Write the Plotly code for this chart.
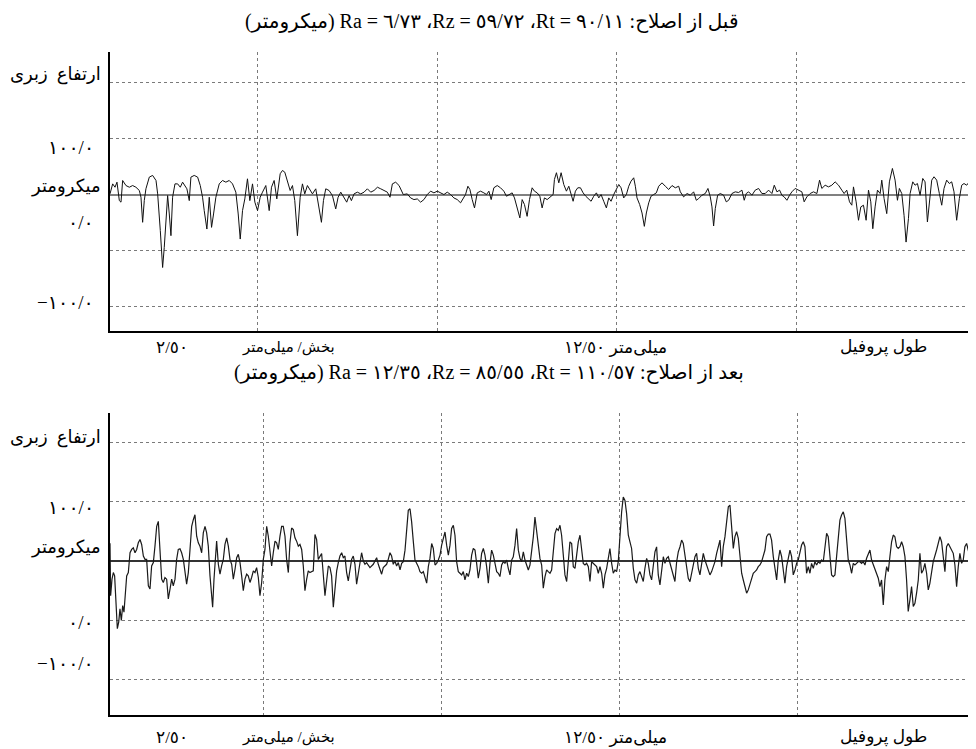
import plotly.graph_objects as go

# ---------------- data ----------------
# Before treatment profile: distance (mm), height (micrometre)
top_x = [0.45, 0.487, 0.52, 0.547, 0.58, 0.603, 0.626, 0.672, 0.719, 0.765, 0.811, 0.858, 0.881, 0.904, 0.927, 0.95,
         0.997, 1.043, 1.09, 1.113, 1.15, 1.182, 1.205, 1.252, 1.275, 1.298, 1.321, 1.354, 1.391, 1.428, 1.46, 1.493,
         1.52, 1.553, 1.576, 1.622, 1.669, 1.706, 1.738, 1.761, 1.798, 1.831, 1.863, 1.891, 1.923, 1.97, 2.016, 2.062,
         2.109, 2.155, 2.201, 2.234, 2.262, 2.294, 2.326, 2.363, 2.396, 2.433, 2.466, 2.503, 2.54, 2.572, 2.618, 2.665,
         2.697, 2.734, 2.771, 2.818, 2.85, 2.882, 2.919, 2.957, 2.989, 3.021, 3.058, 3.096, 3.128, 3.16, 3.197, 3.234,
         3.267, 3.313, 3.36, 3.392, 3.42, 3.452, 3.498, 3.545, 3.591, 3.624, 3.661, 3.707, 3.744, 3.777, 3.809, 3.846,
         3.892, 3.939, 3.985, 4.031, 4.078, 4.124, 4.171, 4.217, 4.263, 4.309, 4.346, 4.379, 4.425, 4.472,
         4.531, 4.587, 4.633, 4.679, 4.726, 4.772, 4.818, 4.865, 4.911, 4.957, 5.004, 5.05, 5.096, 5.143, 5.189, 5.235,
         5.282, 5.328, 5.365, 5.397, 5.43, 5.458, 5.49, 5.522, 5.56, 5.606, 5.652, 5.689, 5.722, 5.754, 5.791, 5.838,
         5.884, 5.93, 5.967, 6.0, 6.046, 6.078, 6.116, 6.153, 6.185, 6.217, 6.254, 6.287, 6.324, 6.356, 6.394, 6.431,
         6.463, 6.495, 6.533, 6.579, 6.616, 6.634, 6.662, 6.695, 6.727, 6.764, 6.801, 6.834, 6.866, 6.894, 6.926, 6.959,
         6.996, 7.033, 7.07, 7.112, 7.144, 7.181, 7.218, 7.251, 7.283, 7.32, 7.357, 7.39, 7.422, 7.459, 7.496, 7.529,
         7.561, 7.598, 7.635, 7.668, 7.7, 7.737, 7.76, 7.783, 7.82, 7.853, 7.885, 7.913, 7.946, 7.978, 8.015, 8.052,
         8.085, 8.131, 8.177, 8.224, 8.27, 8.316, 8.363,
         8.386, 8.432, 8.479, 8.525, 8.571, 8.608, 8.641, 8.687, 8.733, 8.77, 8.803, 8.826, 8.849, 8.872, 8.905, 8.942,
         8.988, 9.025, 9.058, 9.104, 9.15, 9.197, 9.243, 9.275, 9.303, 9.336, 9.382, 9.428, 9.475, 9.521, 9.567, 9.614,
         9.66, 9.693, 9.73, 9.767, 9.799, 9.831, 9.869, 9.906, 9.938, 9.984, 10.031, 10.077, 10.109, 10.146, 10.193,
         10.239, 10.286, 10.323, 10.355, 10.401, 10.448, 10.494, 10.54, 10.587, 10.633, 10.665, 10.702, 10.74, 10.772,
         10.795, 10.832, 10.865, 10.897, 10.934, 10.971, 11.004, 11.036, 11.064, 11.096, 11.129, 11.166, 11.189, 11.221,
         11.258, 11.295, 11.337, 11.374, 11.407, 11.434, 11.467, 11.499, 11.527, 11.56, 11.583, 11.62, 11.652, 11.685,
         11.722, 11.759, 11.791, 11.824, 11.851, 11.884, 11.916, 11.953, 11.99, 12.023, 12.055, 12.092, 12.129, 12.162,
         12.194, 12.231, 12.268, 12.301, 12.333, 12.37, 12.407, 12.44, 12.486]
top_y = [0.6, 9.5, 6.5, 11.0, -5.4, -6.8, 12.5, 8.0, 6.5, 8.0, 6.5, 3.6, -2.4, -24.7, -5.4, 5.1,
         15.5, 17.0, 12.5, 0.6, -32.1, -64.9, -47.0, -0.9, -17.3, -36.6, -2.4, 9.5, 9.5, 6.5, 11.0, 8.0,
         5.1, -5.4, 15.5, 17.0, 15.5, 8.0, -2.4, -14.3, -30.7, -2.4, -29.2, -17.3, -2.4, 9.5, 12.5, 11.0,
         12.5, 9.5, 2.1, -17.3, -39.6, -14.3, -3.9, 14.0, -5.4, 9.5, -6.8, -14.3, -2.4, 2.1, 8.0, -14.3,
         6.5, 12.5, -3.9, 18.5, 21.4, 19.9, 12.5, 3.6, 8.0, -5.4, -36.6, -2.4, 9.5, 0.6, 8.0, 3.6,
         0.6, 5.1, -11.3, -24.7, -5.4, 5.1, 3.6, -0.9, -12.8, -2.4, 2.1, -2.4, -6.8, -0.9, -5.4, 0.6,
         2.1, 0.6, 2.1, 5.1, 2.1, 3.6, 6.5, 5.1, 3.6, 2.1, -2.4, 9.5, 11.0, 8.0,
         0.0, 0.6, -3.0, -4.5, -3.9, -6.8, -4.5, 0.0, 3.0, 1.5, 3.0, 1.5, 0.0, 2.1, 0.0, -3.0,
         -4.5, -7.4, -3.0, 0.0, 7.4, 4.5, -4.5, -11.9, 1.5, 3.0, 1.5, 0.0, 3.0, -4.5, 6.0, 8.0,
         6.0, 3.0, -1.5, 0.0, 1.5, -3.0, -13.4, -20.8, -4.5, -8.9, -19.4, -4.5, 6.0, 3.0, 1.5, -1.5,
         -11.9, -3.0, -4.5, -1.5, 0.0, 13.4, 19.4, 10.4, 19.4, 8.9, 3.0, 7.4, 0.0, -6.0, 3.0, 6.0,
         6.0, 1.5, -1.5, -4.5, -6.0, -1.5, 1.5, -3.0, 0.0, -6.0, -11.9, -3.0, -6.0, 0.0, 4.5, 8.9,
         6.0, -3.0, 0.0, 7.4, 11.9, 14.9, 7.4, -3.0, -8.9, -16.4, -28.3, -16.4, -7.4, -1.5, 0.0, 1.5,
         7.4, 10.4, 7.4, 4.5, 8.0, 6.0, 7.4,
         2.4, -2.1, 0.9, -0.6, 2.4, -5.1, -3.6, -0.6, 0.9, 5.4, -2.1, -11.0, -28.0, -12.5, -0.6, 0.9,
         -0.6, -6.5, -5.1, 0.9, 2.4, 1.8, 3.9, -5.1, 0.9, 2.4, -0.6, 3.9, 5.4, 0.9, 0.9, 3.9,
         0.9, 8.3, 2.4, 3.9, -0.6, -2.1, -5.1, -0.6, 2.4, 5.4, 3.9, 2.4, -6.5, -2.1, 0.9,
         2.4, 0.9, 12.8, 5.4, 8.3, 6.8, 8.3, 11.3, 8.3, 3.9, 0.9, 3.9, -6.5, -9.5,
         6.8, -6.5, -22.9, -11.0, -9.5, -22.9, 3.9, -6.5, -30.4, -11.0, 3.9, 0.9, 12.8, -3.6,
         -17.0, 11.3, 23.2, 12.8, -5.1, 5.4, 0.9, -18.5, -42.3, -21.4, 0.9, 11.3, 8.3, 9.8,
         -0.6, 14.3, 11.3, -24.4, -8.0, 12.8, 15.8, 12.8, 0.9, -9.5, 5.4, 12.8, 9.8, 11.3,
         2.4, -22.9, -3.6, 8.3, 9.8, 8.3, 11.3, 9.8, 8.3]

# After treatment profile: distance (mm), height (micrometre)
bot_x = [0.35, 0.359, 0.378, 0.397, 0.415, 0.434, 0.453, 0.472, 0.49, 0.509, 0.528, 0.546, 0.565, 0.584, 0.607, 0.631,
         0.654, 0.677, 0.701, 0.724, 0.747, 0.771, 0.794, 0.818, 0.841, 0.864, 0.888, 0.911, 0.934, 0.958, 0.981, 1.005,
         1.028, 1.051, 1.075, 1.098, 1.121, 1.145, 1.168, 1.192, 1.215, 1.238, 1.262, 1.285, 1.308, 1.332, 1.355, 1.379,
         1.402, 1.425, 1.449, 1.472, 1.496, 1.519, 1.542, 1.566, 1.589, 1.612, 1.636, 1.659, 1.683, 1.706, 1.729, 1.753,
         1.776, 1.79, 1.809, 1.828, 1.846, 1.87, 1.893, 1.916, 1.94, 1.963, 1.987, 2.01, 2.033, 2.057, 2.08, 2.104,
         2.127, 2.15, 2.174, 2.197, 2.22, 2.244, 2.267, 2.29, 2.314, 2.337, 2.361, 2.384, 2.407, 2.431, 2.454, 2.478,
         2.501, 2.524, 2.548, 2.571, 2.594, 2.618, 2.641, 2.665, 2.688, 2.711, 2.735, 2.758, 2.781, 2.805, 2.828, 2.852,
         2.875, 2.898, 2.922, 2.945, 2.968, 2.992, 3.015, 3.039, 3.062, 3.085, 3.109, 3.132, 3.155, 3.202, 3.226, 3.249,
         3.272, 3.296, 3.319, 3.366, 3.389, 3.413, 3.436, 3.459, 3.483, 3.506, 3.53, 3.553, 3.576, 3.6, 3.623, 3.646,
         3.67, 3.693, 3.717, 3.74, 3.763, 3.787, 3.81, 3.834, 3.857, 3.88, 3.904, 3.927, 3.95, 3.974, 3.997, 4.044,
         4.091, 4.114, 4.137, 4.161, 4.184, 4.207, 4.231, 4.254, 4.278, 4.301, 4.324, 4.348, 4.371, 4.395,
         4.419, 4.442, 4.465, 4.489, 4.512, 4.535, 4.559, 4.582, 4.606, 4.629, 4.652, 4.676, 4.699, 4.723, 4.746, 4.769,
         4.793, 4.816, 4.839, 4.863, 4.886, 4.91, 4.933, 4.956, 4.98, 5.003, 5.026, 5.05, 5.073, 5.097, 5.12, 5.143,
         5.167, 5.19, 5.213, 5.237, 5.26, 5.284, 5.307, 5.33, 5.354, 5.377, 5.4, 5.424, 5.447, 5.471, 5.494, 5.517,
         5.541, 5.564, 5.588, 5.611, 5.634, 5.658, 5.681, 5.704, 5.728, 5.751, 5.775, 5.798, 5.821, 5.845, 5.868, 5.891,
         5.915, 5.938, 5.962, 5.985, 6.008, 6.032, 6.055, 6.079, 6.102, 6.125, 6.149, 6.172, 6.195, 6.219, 6.242, 6.266,
         6.289, 6.312, 6.336, 6.359, 6.382, 6.406, 6.429, 6.453, 6.476, 6.499, 6.523, 6.546, 6.57, 6.593, 6.616, 6.64,
         6.663, 6.686, 6.71, 6.733, 6.757, 6.78, 6.803, 6.827, 6.85, 6.874, 6.897, 6.92, 6.944, 6.967, 6.99, 7.014,
         7.037, 7.061, 7.084, 7.107, 7.131, 7.154, 7.177, 7.201, 7.224, 7.248, 7.271, 7.294, 7.318, 7.341, 7.364, 7.388,
         7.411, 7.435, 7.458, 7.481, 7.505, 7.528, 7.551, 7.575, 7.598, 7.622, 7.645, 7.668, 7.692, 7.715, 7.739, 7.762,
         7.785, 7.809, 7.832, 7.855, 7.879, 7.902, 7.926, 7.949, 7.972, 7.996, 8.019, 8.042, 8.066, 8.089, 8.113, 8.136,
         8.159, 8.183, 8.206, 8.229, 8.253, 8.276, 8.3, 8.323,
         8.347, 8.37, 8.393, 8.417, 8.44, 8.463, 8.487, 8.51, 8.534, 8.557, 8.58, 8.604, 8.627, 8.651, 8.674, 8.697,
         8.721, 8.744, 8.767, 8.791, 8.814, 8.838, 8.861, 8.884, 8.908, 8.931, 8.954, 8.978, 9.001, 9.025, 9.048, 9.071,
         9.095, 9.118, 9.141, 9.165, 9.188, 9.212, 9.235, 9.258, 9.282, 9.305, 9.329, 9.352, 9.375, 9.399, 9.422, 9.445,
         9.469, 9.492, 9.516, 9.539, 9.562, 9.586, 9.609, 9.632, 9.656, 9.679, 9.703, 9.726, 9.749, 9.773, 9.796, 9.819,
         9.843, 9.866, 9.89, 9.913, 9.936, 9.96, 9.983, 10.006, 10.03, 10.053, 10.077, 10.1, 10.123, 10.147, 10.17, 10.193,
         10.217, 10.24, 10.264, 10.287, 10.31, 10.334, 10.357, 10.38, 10.404, 10.427, 10.451, 10.474, 10.497, 10.521,
         10.544, 10.568, 10.591, 10.614, 10.638, 10.661, 10.684, 10.708, 10.731, 10.755, 10.778, 10.801, 10.825, 10.848,
         10.871, 10.895, 10.918, 10.942, 10.965, 10.988, 11.012, 11.035, 11.058, 11.082, 11.105, 11.129, 11.152, 11.175,
         11.199, 11.222, 11.246, 11.269, 11.292, 11.316, 11.339, 11.362, 11.386, 11.409, 11.433, 11.456, 11.479, 11.503,
         11.526, 11.549, 11.573, 11.596, 11.62, 11.643, 11.666, 11.69, 11.713, 11.736, 11.76, 11.783, 11.807, 11.83,
         11.853, 11.9, 11.947, 11.994, 12.017, 12.04, 12.064, 12.087, 12.111, 12.134, 12.157, 12.181, 12.204, 12.228,
         12.251, 12.274, 12.298, 12.321, 12.344, 12.368, 12.391, 12.415, 12.438, 12.461, 12.485]
bot_y = [15.0, -29.4, -15.4, -9.8, -12.6, -37.8, -57.4, -51.8, -40.6, -50.4, -37.8, -43.4, -29.4, -12.6, -9.8, 7.0,
         9.8, 11.2, 7.0, 9.8, 15.4, 18.2, 14.0, 4.2, 1.4, 1.4, -21.0, -23.8, -4.2, -1.4, 12.6, 29.4,
         33.6, 7.0, -15.4, -18.2, -14.0, -15.4, -32.2, -23.8, -15.4, -21.0, -15.4, 1.4, 9.8, 10.4, 7.0, 1.4,
         -9.8, -19.6, -9.8, 9.8, 29.4, 35.0, 39.2, 21.0, 15.4, 12.6, 7.0, 23.8, 29.4, 23.8, 12.6, -12.6,
         -29.4, -39.2, -15.4, 1.4, 16.8, -2.8, -11.2, -4.2, 1.4, 14.0, 19.6, 12.6, 1.4, -2.8, -15.4, -7.0,
         2.8, 5.6, -1.4, -12.6, -25.2, -15.4, -11.2, -12.6, -18.2, -14.0, -8.4, -9.8, -5.6, -14.0, -29.4, -18.2,
         1.4, 9.8, 29.4, 21.0, 9.8, -4.2, 7.0, 16.8, 15.4, 9.8, 21.0, 29.4, 29.4, 21.0, 1.4, -9.8,
         15.4, 28.0, 26.6, 19.6, 16.8, 12.6, 14.0, 9.8, -4.2, -25.2, -15.4, -8.4, -9.8, -8.4, 22.4, 18.2,
         1.4, 4.2, 6.4, -29.4, -15.4, -4.2, -5.6, -12.6, -39.2, -21.0, -8.4, -1.4, 4.2, 7.0, 2.8, 4.2,
         -9.8, -16.8, -5.6, 1.4, 4.2, -2.8, -19.6, -9.8, 1.4, 7.0, 0.0, -2.8, -1.4, -4.2, -5.6, -2.8,
         2.8, -2.8, -7.0, -11.2, -5.6, -4.2, -2.8, 1.4, 7.0, 4.2, -2.8, 0.0, -4.2, -1.4,
         -7.6, -2.0, -0.6, 9.2, 27.5, 42.9, 44.3, 33.1, 16.2, 0.8, -2.0, -4.8, -9.0, -10.4, -9.0, -13.2,
         -18.8, -4.8, 2.2, 14.8, 10.6, -3.4, -2.0, 0.8, 5.0, 13.4, 20.4, 24.6, 13.4, 5.0, 13.4, 27.5,
         30.3, 21.8, -0.6, -9.0, -10.4, -11.8, -9.0, -16.0, -10.4, -13.2, -7.6, 5.0, 10.6, 9.2, -2.0, -14.6,
         -6.2, 6.4, 10.6, 5.0, -4.8, -18.8, -2.0, 9.2, 5.0, -3.4, -9.0, -10.4, -13.2, -3.4, -0.6, -2.0,
         0.8, -6.2, -11.8, 0.8, 3.6, 13.4, 27.5, 9.2, 2.2, -0.6, 7.8, 0.8, -3.4, -7.6, -3.4, 7.8,
         20.4, 37.3, 23.2, 13.4, 2.2, -3.4, -23.0, -13.2, -7.6, -9.0, -10.4, -7.6, 7.8, 23.2, 27.5, 26.0,
         30.3, 21.8, 5.0, -11.8, -17.4, 2.2, 16.2, 14.8, -4.8, -6.2, 7.8, 16.2, 21.8, 10.6, -2.0, -3.4,
         -2.0, -4.8, -17.4, -0.6, -2.0, -3.4, -4.8, -10.4, -4.8, -10.4, -23.0, -11.8, -6.2, 2.2, 10.6, -2.0,
         -10.4, -7.6, -9.0, -0.6, 24.6, 41.5, 54.1, 51.3, 40.1, 21.8, 16.2, 10.6, -6.2, -16.0, -18.8, -11.8,
         -9.0, -13.2, -17.4, -6.2, 2.2, -2.0, -11.8, -16.0, -6.2, 7.8, 12.0, -11.8, -20.2, -9.0, 3.6, -2.0,
         2.2, 3.6, -2.0, -6.2, -13.2, -17.4, -0.6, 7.8,
         12.1, 17.7, 14.9, 3.7, -4.8, -14.6, -17.5, -10.4, -0.6, 3.7, 6.5, -6.2, -11.8, -0.6, 6.5, 0.8,
         -3.4, -9.0, -11.8, -9.0, -4.8, -0.6, 6.5, 12.1, 17.7, -4.8, 12.1, 20.6, 34.6, 45.9, 47.3, 29.0,
         10.7, 20.6, 24.8, 19.2, 6.5, -10.4, -16.1, -21.7, -27.3, -24.5, -18.9, -14.6, -10.4, -9.0, -7.6, -4.8,
         -3.4, -0.6, 3.7, 9.3, 20.6, 22.8, 22.8, 17.7, 3.7, -4.8, -16.1, 0.8, 9.3, 3.7, -10.4, -18.9,
         -4.8, 3.7, 9.3, 3.7, -11.8, -7.6, -2.0, 0.8, 6.5, 13.5, 16.3, 12.1, -10.4, -4.8, -10.4, -2.0,
         -6.2, -0.6, -3.4, -0.6, -2.0, 0.8, -0.6, 12.1, 23.4, 20.6, 3.7, -11.8, -13.2, -11.8,
         3.7, 22.0, 34.6, 38.9, 41.7, 36.1, 14.9, 0.8, -3.4, -10.4, -2.0, -3.4, -2.0, -0.6,
         -0.6, -2.0, -0.6, -3.4, 2.3, 5.1, 9.3, 0.8, -3.4, -6.2, -10.4, -14.6, -21.7, -16.1,
         -37.2, -16.1, -4.8, -9.0, 3.7, 16.3, 22.0, 20.6, 12.1, 10.7, 12.1, 16.3, 12.1, 3.7,
         -16.1, -42.8, -32.9, -21.7, -38.6, -35.8, -27.3, -16.1, 6.5, -10.4, -7.6, -2.0, -10.4, -24.5,
         -18.9, -0.6, 9.3, 20.6, 16.3, 3.7, -9.0, 12.1, 14.9, 12.1, 9.3, 6.5, -3.4, -21.7,
         -4.8, 6.5, -2.0, 0.8, 12.1, 14.9, 9.3, 3.7, 6.5, 9.3, -4.8]

# gridline positions (mm and micrometre)
x_grid = [2.5, 5.0, 7.5, 10.0]
y_grid = [-100, -50, 50, 100]

LRM = "\u200e"
title_before = "(میکرومتر) Ra = ٦/٧٣" + LRM + " ،Rz = ٥٩/٧٢" + LRM + " ،Rt = ٩٠/١١" + LRM + " :قبل از اصلاح"
title_after = "(میکرومتر) Ra = ١٢/٣٥" + LRM + " ،Rz = ٨٥/٥٥" + LRM + " ،Rt = ١١٠/٥٧" + LRM + " :بعد از اصلاح"
y_label_texts = ["ارتفاع  زبری", "١٠٠/٠", "میکرومتر", "٠/٠", LRM + "−١٠٠/٠"]
x_label_texts = ["٢/٥٠", "بخش/ میلی‌متر", "میلی‌متر ١٢/٥٠", "طول پروفیل"]

# ---------------- figure ----------------
# The page body has an 8 px margin, so the figure is drawn 8 px smaller
# and all window positions below are shifted by that margin.
PAGE_W, PAGE_H, BODY = 976, 749, 8
W, H = PAGE_W - BODY, PAGE_H - BODY
FONT = "'Liberation Serif', 'DejaVu Serif', 'DejaVu Sans', serif"


def fx(px):
    return (px - BODY) / W


def fy(py):
    return 1 - (py - BODY) / H


fig = go.Figure()
fig.add_trace(go.Scatter(x=top_x, y=top_y, mode="lines", xaxis="x", yaxis="y",
                         line=dict(color="#111111", width=1), showlegend=False, hoverinfo="skip"))
fig.add_trace(go.Scatter(x=bot_x, y=bot_y, mode="lines", xaxis="x2", yaxis="y2",
                         line=dict(color="#1a1a1a", width=1.2), showlegend=False, hoverinfo="skip"))

grid = dict(showgrid=True, gridcolor="#7a7a7a", gridwidth=1, griddash="dot",
            showticklabels=False, ticks="", showline=True, linecolor="black", linewidth=2)
x_common = dict(domain=[fx(110), 1.0], tickvals=x_grid, zeroline=False, **grid)
y_common = dict(tickvals=y_grid, zeroline=True, zerolinewidth=1.5, **grid)

fig.update_layout(
    width=W, height=H, margin=dict(l=0, r=0, t=0, b=0),
    paper_bgcolor="white", plot_bgcolor="white",
    font=dict(family=FONT, color="black"),
    xaxis=dict(range=[0.45, 12.5], anchor="y", **x_common),
    yaxis=dict(domain=[fy(331), fy(52)], range=[-121.4, 126.8], anchor="x",
               zerolinecolor="#808080", **y_common),
    xaxis2=dict(range=[0.35, 12.5], anchor="y2", **x_common),
    yaxis2=dict(domain=[fy(715), fy(413)], range=[-130.5, 125.4], anchor="x2",
                zerolinecolor="#333333", **y_common),
)

ann = []


def add_text(text, px, py, size, xanchor="center"):
    ann.append(dict(text=text, x=fx(px), y=fy(py), xref="paper", yref="paper",
                    xanchor=xanchor, yanchor="middle", showarrow=False,
                    font=dict(family=FONT, size=size, color="black")))


add_text(title_before, 491, 22, 20)
add_text(title_after, 489, 372, 20)

y_label_sizes = [18, 19, 18, 19, 19]
y_label_right = [103, 96, 103, 96, 96]
for ys in ([75, 147, 187, 222, 302], [437, 507, 547, 622, 663]):
    for t, yy, rr, ss in zip(y_label_texts, ys, y_label_right, y_label_sizes):
        add_text(t, rr, yy, ss, xanchor="right")

x_label_sizes = [17, 15, 17, 17]
for yy in (347, 737):
    for t, xx, ss in zip(x_label_texts, [172, 288, 615, 883], x_label_sizes):
        add_text(t, xx, yy, ss)

fig.update_layout(annotations=ann)
fig.write_html("out.html")
